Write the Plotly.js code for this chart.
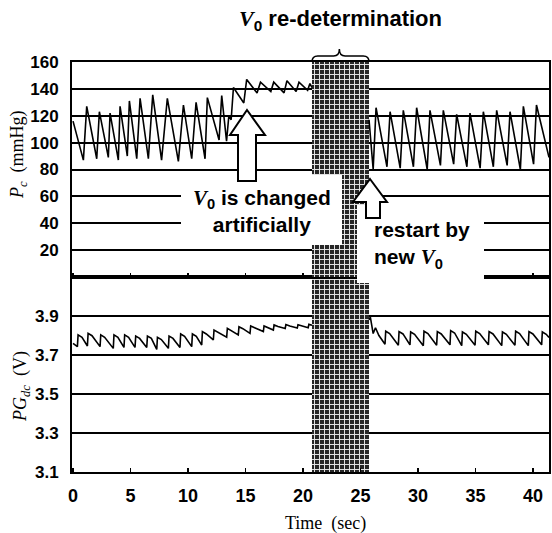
<!DOCTYPE html>
<html><head><meta charset="utf-8">
<script src="https://cdn.plot.ly/plotly-3.0.1.min.js"></script>
<style>html,body{margin:0;padding:0;background:#fff}#chart{width:552px;height:533px}</style>
</head><body><div id="chart"></div>
<script>
// ---- data ----
const xTicks = [0, 5, 10, 15, 20, 25, 30, 35, 40];
const pcTicks = [20, 40, 60, 80, 100, 120, 140, 160];
const pgTicks = [3.1, 3.3, 3.5, 3.7, 3.9];
const pcRange = [0, 160];
const pgRange = [3.1, 4.1];
const timeRange = [-0.09, 41.39];

// V0 re-determination period (sec)
const blockT = [20.78, 25.74];

// Pc (mmHg) before re-determination
const pcLeftT = [0, 0.9, 1.19, 2.06, 2.29, 3.07, 3.22, 3.94, 4.09, 4.72, 4.9, 5.54, 5.83, 6.55, 6.93, 7.7, 8.2, 9.16, 9.6, 10.32, 10.7, 11.48, 11.68, 12.7, 12.93, 13.35, 13.55, 13.75, 13.95, 14.85, 15.1, 16.0, 16.3, 17.2, 17.45, 18.35, 18.6, 19.4, 19.65, 20.4, 20.6, 20.78];
const pcLeftV = [116, 87, 127, 88, 123, 89, 122, 87, 127, 90, 131, 88, 133, 88, 135.5, 87, 133, 86, 128, 88, 130, 88, 133.5, 102, 135, 101, 120, 117, 141, 129.5, 147, 137, 145, 138, 145, 137, 146, 138, 145, 139, 144, 141];
// Pc (mmHg) after restart
const pcRightT = [25.74, 26.1, 26.35, 27.3, 27.57, 28.45, 28.72, 29.6, 29.88, 30.8, 31.04, 31.95, 32.2, 33.1, 33.36, 34.25, 34.52, 35.4, 35.68, 36.55, 36.84, 37.75, 38.0, 38.9, 39.16, 40.05, 40.3, 41.39];
const pcRightV = [117, 80, 126, 82, 123, 81, 124, 82, 126, 80, 124, 83, 124, 84, 121, 82, 122, 81, 123, 82, 124, 83, 123, 80, 127, 84, 128, 89];

// PGdc (V) before re-determination
const pgLeftT = [0, 0.38, 0.44, 0.78, 1.25, 1.31, 1.65, 2.35, 2.41, 2.75, 3.5, 3.56, 3.9, 4.43, 4.49, 4.83, 5.39, 5.45, 5.79, 6.41, 6.47, 6.81, 7.28, 7.34, 7.68, 8.29, 8.35, 8.69, 9.3, 9.36, 9.7, 10.32, 10.38, 10.72, 11.19, 11.25, 11.59, 12.2, 12.26, 12.6, 13.36, 13.42, 13.76, 14.37, 14.43, 14.77, 15.39, 15.45, 15.79, 16.55, 16.61, 16.95, 17.42, 17.48, 17.82, 18.45, 18.51, 18.85, 19.5, 19.56, 19.9, 20.45, 20.51, 20.78];
const pgLeftV = [3.760, 3.743, 3.803, 3.791, 3.746, 3.811, 3.799, 3.743, 3.803, 3.791, 3.734, 3.803, 3.791, 3.739, 3.803, 3.791, 3.739, 3.797, 3.785, 3.739, 3.797, 3.785, 3.729, 3.791, 3.779, 3.734, 3.797, 3.785, 3.739, 3.808, 3.796, 3.743, 3.808, 3.796, 3.751, 3.820, 3.808, 3.777, 3.828, 3.816, 3.791, 3.837, 3.826, 3.803, 3.845, 3.835, 3.811, 3.849, 3.840, 3.820, 3.849, 3.841, 3.828, 3.854, 3.846, 3.836, 3.856, 3.849, 3.838, 3.855, 3.848, 3.840, 3.857, 3.852];
// PGdc (V) after restart
const pgRightT = [25.74, 25.85, 26.1, 26.3, 26.6, 27.13, 27.19, 27.53, 28.29, 28.35, 28.69, 29.3, 29.36, 29.7, 30.46, 30.52, 30.86, 31.62, 31.68, 32.02, 32.78, 32.84, 33.18, 33.8, 33.86, 34.2, 34.96, 35.02, 35.36, 36.12, 36.18, 36.52, 37.28, 37.34, 37.68, 38.43, 38.49, 38.83, 39.59, 39.65, 39.99, 40.75, 40.81, 41.15, 41.39];
const pgRightV = [3.88, 3.895, 3.81, 3.84, 3.80, 3.755, 3.822, 3.810, 3.750, 3.820, 3.808, 3.752, 3.818, 3.806, 3.748, 3.822, 3.810, 3.750, 3.820, 3.808, 3.752, 3.825, 3.813, 3.748, 3.818, 3.806, 3.750, 3.822, 3.810, 3.752, 3.820, 3.808, 3.748, 3.818, 3.806, 3.750, 3.822, 3.810, 3.748, 3.820, 3.808, 3.752, 3.818, 3.806, 3.79];

// ---- layout helpers (pixel -> paper) ----
const L = 72, R = 549, T = 62, B = 472;
const px = v => (v - L) / (R - L);
const py = v => (B - v) / (B - T);
const split = py(277);

const lineStyle = {color: '#000', width: 1.6};
const pattern = {shape: '+', bgcolor: '#262626', fgcolor: '#e6e6e6', size: 5, solidity: 0.35, fillmode: 'replace'};

const traces = [
  {x: [blockT[0], blockT[1], blockT[1], blockT[0], blockT[0]], y: [pcRange[0], pcRange[0], pcRange[1], pcRange[1], pcRange[0]],
   xaxis: 'x2', yaxis: 'y', mode: 'lines', line: {width: 0}, fill: 'toself', fillcolor: '#262626', fillpattern: pattern, hoverinfo: 'skip'},
  {x: [blockT[0], blockT[1], blockT[1], blockT[0], blockT[0]], y: [pgRange[0], pgRange[0], pgRange[1], pgRange[1], pgRange[0]],
   xaxis: 'x', yaxis: 'y2', mode: 'lines', line: {width: 0}, fill: 'toself', fillcolor: '#262626', fillpattern: pattern, hoverinfo: 'skip'},
  {x: pcLeftT, y: pcLeftV, xaxis: 'x2', yaxis: 'y', mode: 'lines', line: lineStyle},
  {x: pcRightT, y: pcRightV, xaxis: 'x2', yaxis: 'y', mode: 'lines', line: lineStyle},
  {x: pgLeftT, y: pgLeftV, xaxis: 'x', yaxis: 'y2', mode: 'lines', line: lineStyle},
  {x: pgRightT, y: pgRightV, xaxis: 'x', yaxis: 'y2', mode: 'lines', line: lineStyle}
];

const tickFontY = {family: 'Liberation Sans, Arial, sans-serif', size: 17, color: '#000', weight: 'bold'};
const tickFontX = {family: 'Liberation Sans, Arial, sans-serif', size: 18, color: '#000', weight: 'bold'};
const baseX = {range: timeRange, tickvals: xTicks, ticks: 'inside', ticklen: 4, tickwidth: 1.5, tickcolor: '#000',
  showline: true, linewidth: 2, linecolor: '#000', mirror: true, showgrid: false, zeroline: false};
const baseY = {showgrid: true, gridcolor: '#000', gridwidth: 2, showline: true, linewidth: 2, linecolor: '#000',
  mirror: true, ticks: '', zeroline: false, tickfont: tickFontY, ticklabelstandoff: 8};

function arrowPath(tipX, tipY, headL, headR, headY, shaftL, shaftR, shaftY) {
  return 'M' + px(tipX) + ',' + py(tipY) + ' L' + px(headR) + ',' + py(headY) + ' L' + px(shaftR) + ',' + py(headY) +
    ' L' + px(shaftR) + ',' + py(shaftY) + ' L' + px(shaftL) + ',' + py(shaftY) + ' L' + px(shaftL) + ',' + py(headY) +
    ' L' + px(headL) + ',' + py(headY) + ' Z';
}
const bc = (blockT[0] + blockT[1]) / 2 - 0.1;
const yb0 = py(62), yb1 = py(56), yb2 = py(49);
const bracePath = 'M' + blockT[0] + ',' + yb0 + ' Q' + blockT[0] + ',' + yb1 + ' ' + (blockT[0] + 0.5) + ',' + yb1 +
  ' L' + (bc - 0.5) + ',' + yb1 + ' Q' + bc + ',' + yb1 + ' ' + bc + ',' + yb2 +
  ' Q' + bc + ',' + yb1 + ' ' + (bc + 0.5) + ',' + yb1 + ' L' + (blockT[1] - 0.5) + ',' + yb1 +
  ' Q' + blockT[1] + ',' + yb1 + ' ' + blockT[1] + ',' + yb0;

const shapes = [
  {type: 'rect', xref: 'paper', yref: 'paper', x0: px(181), x1: px(342), y0: py(245), y1: py(175), fillcolor: '#fff', line: {width: 0}, layer: 'above'},
  {type: 'rect', xref: 'paper', yref: 'paper', x0: px(357), x1: px(484), y0: py(283), y1: py(205), fillcolor: '#fff', line: {width: 0}, layer: 'above'},
  {type: 'path', xref: 'paper', yref: 'paper', path: arrowPath(247, 110, 230, 265, 135, 238, 256, 181), fillcolor: '#fff', line: {color: '#000', width: 2}, layer: 'above'},
  {type: 'path', xref: 'paper', yref: 'paper', path: arrowPath(370, 179, 353, 387, 202, 366, 380, 218), fillcolor: '#fff', line: {color: '#000', width: 2}, layer: 'above'},
  {type: 'path', xref: 'x', yref: 'paper', path: bracePath, line: {color: '#000', width: 1.5}, layer: 'above'}
];

const sansBold = {family: 'Liberation Sans, Arial, sans-serif', size: 21, color: '#000', weight: 'bold'};
const titleFont = {family: 'Liberation Sans, Arial, sans-serif', size: 22, color: '#000', weight: 'bold'};
const serif = {family: 'Liberation Serif, Times New Roman, serif', size: 18, color: '#000'};
const V0 = '<span style="font-family:\'Liberation Serif\';font-style:italic;font-weight:bold">V</span><sub>0</sub>';

const annotations = [
  {xref: 'paper', yref: 'paper', x: px(340), y: py(20), text: V0 + ' re-determination', showarrow: false, font: titleFont, xanchor: 'center', yanchor: 'middle'},
  {xref: 'paper', yref: 'paper', x: px(262), y: py(211), text: V0 + ' is changed<br>artificially', showarrow: false, font: sansBold, xanchor: 'center', yanchor: 'middle', align: 'center'},
  {xref: 'paper', yref: 'paper', x: px(372), y: py(245), text: 'restart by<br>new ' + V0, showarrow: false, font: sansBold, xanchor: 'left', yanchor: 'middle', align: 'left'},
  {xref: 'paper', yref: 'paper', x: px(325), y: py(523), text: 'Time  (sec)', showarrow: false, font: serif, xanchor: 'center', yanchor: 'middle'},
  {xref: 'paper', yref: 'paper', x: px(18), y: py(155), text: '<i>P</i><sub><i>c</i></sub>  (mmHg)', showarrow: false, font: serif, textangle: -90, xanchor: 'center', yanchor: 'middle'},
  {xref: 'paper', yref: 'paper', x: px(21), y: py(387), text: '<i>PG</i><sub><i>dc</i></sub>  (V)', showarrow: false, font: serif, textangle: -90, xanchor: 'center', yanchor: 'middle'}
];

const layout = {
  width: 552, height: 533,
  margin: {l: L, r: 552 - R, t: T, b: 533 - B, pad: 0},
  paper_bgcolor: '#fff', plot_bgcolor: '#fff',
  showlegend: false,
  xaxis: Object.assign({}, baseX, {anchor: 'y2', tickfont: tickFontX, ticklabelstandoff: 6}),
  xaxis2: Object.assign({}, baseX, {anchor: 'y', matches: 'x', showticklabels: false}),
  yaxis: Object.assign({}, baseY, {domain: [split, 1], range: pcRange, tickvals: pcTicks}),
  yaxis2: Object.assign({}, baseY, {domain: [0, split], range: pgRange, tickvals: pgTicks}),
  shapes: shapes,
  annotations: annotations
};

Plotly.newPlot('chart', traces, layout, {staticPlot: true, displayModeBar: false});
</script></body></html>
